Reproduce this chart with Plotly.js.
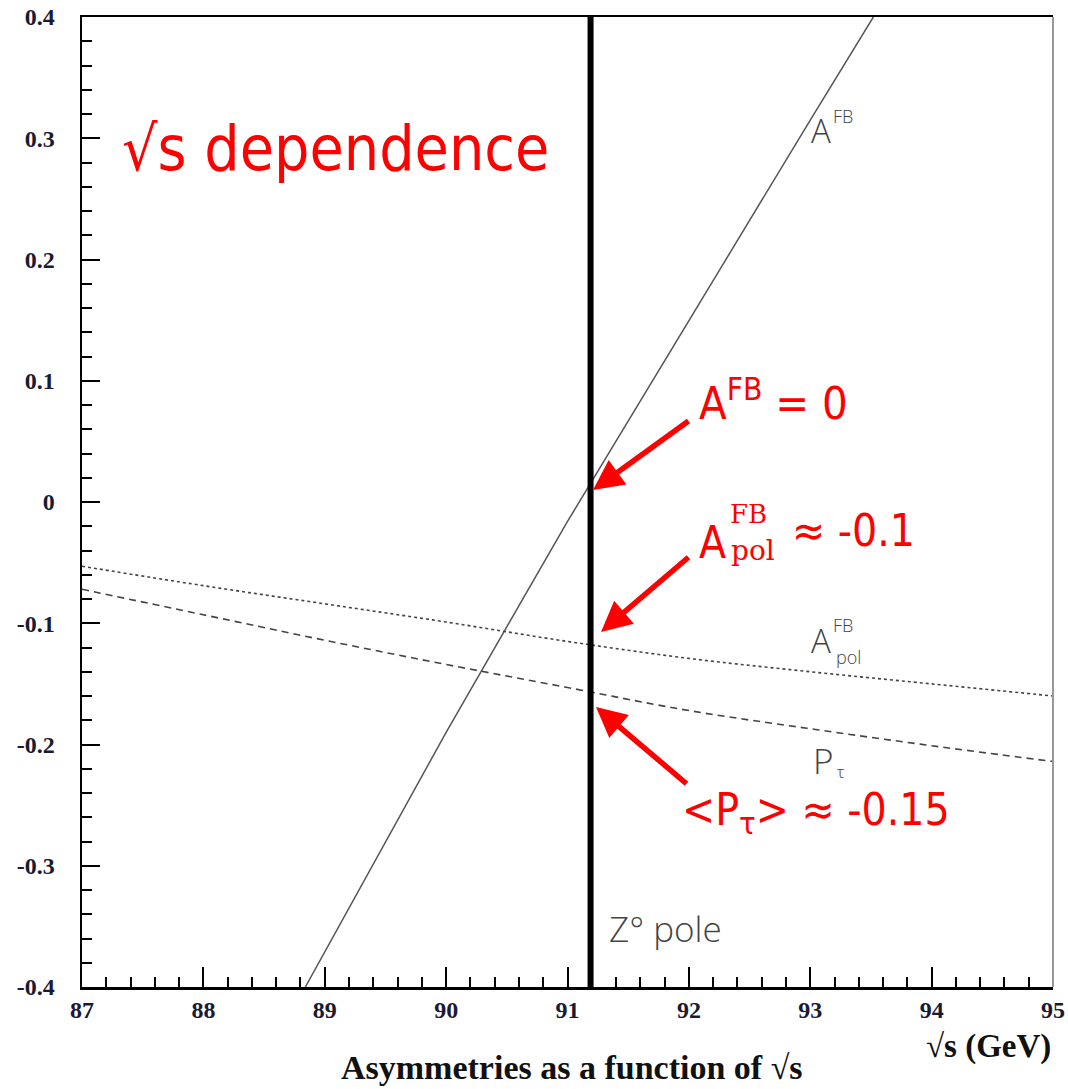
<!DOCTYPE html>
<html>
<head>
<meta charset="utf-8">
<script src="https://cdn.plot.ly/plotly-3.0.1.min.js"></script>
<style>html,body{margin:0;padding:0;background:#fff;}#chart{width:1068px;height:1089px;}</style>
</head>
<body>
<div id="chart"></div>
<script>
// ---- data ----
const sqrtS = [87, 88, 89, 90, 91, 92, 93, 94, 95];
const aPolFB = [-0.053, -0.069, -0.084, -0.099, -0.115, -0.129, -0.140, -0.150, -0.160];
const pTau = [-0.072, -0.093, -0.114, -0.134, -0.153, -0.172, -0.187, -0.201, -0.214];
const sqrtS_AFB = [88.84, 89, 90, 91, 92, 93, 93.52];
const aFB = [-0.4, -0.371, -0.190, -0.016, 0.150, 0.315, 0.4];
const zPole = 91.19;
const xTickVals = [87, 88, 89, 90, 91, 92, 93, 94, 95];
const xTickText = ['87', '88', '89', '90', '91', '92', '93', '94', '95'];
const yTickVals = [0.4, 0.3, 0.2, 0.1, 0, -0.1, -0.2, -0.3, -0.4];
const yTickText = ['0.4', '0.3', '0.2', '0.1', '0', '-0.1', '-0.2', '-0.3', '-0.4'];

// pixel -> coordinate helpers for placing text (layout only)
const L = 82, T = 17, W = 971, H = 970;
const X = px => 87 + (px - L) / W * 8;
const Y = py => 0.4 - (py - T) / H * 0.8;
const PX = px => (px - L) / W;
const PY = py => (T + H - py) / H;

const traces = [
  {x: sqrtS_AFB, y: aFB, mode: 'lines', line: {color: '#555', width: 1.5}, hoverinfo: 'skip'},
  {x: sqrtS, y: aPolFB, mode: 'lines', line: {color: '#444', width: 1.6, dash: 'dot', shape: 'spline'}, hoverinfo: 'skip'},
  {x: sqrtS, y: pTau, mode: 'lines', line: {color: '#444', width: 1.6, dash: '7px,5px', shape: 'spline'}, hoverinfo: 'skip'},
  {x: [zPole, zPole], y: [-0.4, 0.4], mode: 'lines', line: {color: '#000', width: 6}, hoverinfo: 'skip'}
];

const SERIF = 'Liberation Serif';
const redFont = (s) => ({family: 'DejaVu Sans Condensed, DejaVu Sans, sans-serif', size: s, color: '#ff0000'});
const redSerif = (s) => ({family: 'DejaVu Serif, serif', size: s, color: '#ff0000'});
const grayFont = (s) => ({family: 'Open Sans, DejaVu Sans, sans-serif', size: s, color: '#444', weight: 300});
const serifBold = (s) => ({family: SERIF, size: s, color: '#111', weight: 'bold'});

function txt(text, px, py, font, xanchor) {
  return {text: text, x: X(px), y: Y(py), xref: 'x', yref: 'y', showarrow: false, font: font,
          xanchor: xanchor || 'center', yanchor: 'middle'};
}
function ptxt(text, px, py, font, xanchor) {
  return {text: text, x: PX(px), y: PY(py), xref: 'paper', yref: 'paper', showarrow: false, font: font,
          xanchor: xanchor || 'center', yanchor: 'middle'};
}
function arrow(tx, ty, hx, hy) {
  return {text: '', x: X(hx), y: Y(hy), ax: X(tx), ay: Y(ty), xref: 'x', yref: 'y', axref: 'x', ayref: 'y',
          showarrow: true, arrowhead: 2, arrowsize: 1.1, arrowwidth: 5.5, arrowcolor: '#ff0000', standoff: 0, startstandoff: 0};
}

const annotations = [
  txt('√s dependence', 120, 148, redFont(62), 'left'),
  txt('A<sup>FB</sup> = 0', 697, 400, redFont(45), 'left'),
  txt('A', 712, 542, redFont(44)),
  txt('FB', 748, 514, redSerif(26)),
  txt('pol', 753, 550, redSerif(28)),
  txt('≈ -0.1', 790, 530, redFont(44), 'left'),
  txt('&lt;P<sub>τ</sub>&gt; ≈ -0.15', 680, 812, redFont(44), 'left'),
  arrow(690, 420, 593, 490),
  arrow(690, 556, 601, 632),
  arrow(688, 785, 596, 707),
  txt('A', 821, 130, grayFont(33)),
  txt('FB', 843, 116, grayFont(18)),
  txt('A', 821, 640, grayFont(33)),
  txt('FB', 843, 625, grayFont(18)),
  txt('pol', 848, 657, grayFont(18)),
  txt('P', 823, 760, grayFont(35)),
  txt('τ', 841, 771, grayFont(17)),
  txt('Z° pole', 607, 928, grayFont(35), 'left'),
  ptxt('√s (GeV)', 1053, 1046, serifBold(33), 'right'),
  ptxt('Asymmetries as a function of √s', 572, 1067, serifBold(34))
];

const layout = {
  width: 1068, height: 1089,
  margin: {l: L, r: 1068 - L - W, t: T, b: 1089 - T - H, pad: 0},
  paper_bgcolor: '#fff', plot_bgcolor: '#fff',
  showlegend: false,
  xaxis: {
    range: [87, 95], showgrid: false, zeroline: false, fixedrange: true,
    showline: true, linecolor: '#000', linewidth: 2.5, mirror: true,
    ticks: 'inside', ticklen: 20, tickwidth: 2, tickcolor: '#000',
    tickvals: xTickVals, ticktext: xTickText, ticklabelstandoff: 0,
    tickfont: {family: SERIF, size: 24, color: '#1a1a33', weight: 'bold'},
    minor: {ticks: 'inside', ticklen: 10, tickwidth: 2, tickcolor: '#000', dtick: 0.2, showgrid: false}
  },
  yaxis: {
    range: [-0.4, 0.4], showgrid: false, zeroline: false, fixedrange: true,
    showline: true, linecolor: '#000', linewidth: 2.5,
    ticks: 'inside', ticklen: 18, tickwidth: 2, tickcolor: '#000',
    tickvals: yTickVals, ticktext: yTickText, ticklabelstandoff: 20,
    tickfont: {family: SERIF, size: 24, color: '#1a1a33', weight: 'bold'},
    minor: {ticks: 'inside', ticklen: 10, tickwidth: 2, tickcolor: '#000', dtick: 0.02, showgrid: false}
  },
  shapes: [
    {type: 'line', xref: 'paper', yref: 'paper', x0: 1, x1: 1, y0: 0, y1: 1, line: {color: '#999', width: 2}}
  ],
  annotations: annotations
};

Plotly.newPlot('chart', traces, layout, {staticPlot: true, displayModeBar: false});
</script>
</body>
</html>
